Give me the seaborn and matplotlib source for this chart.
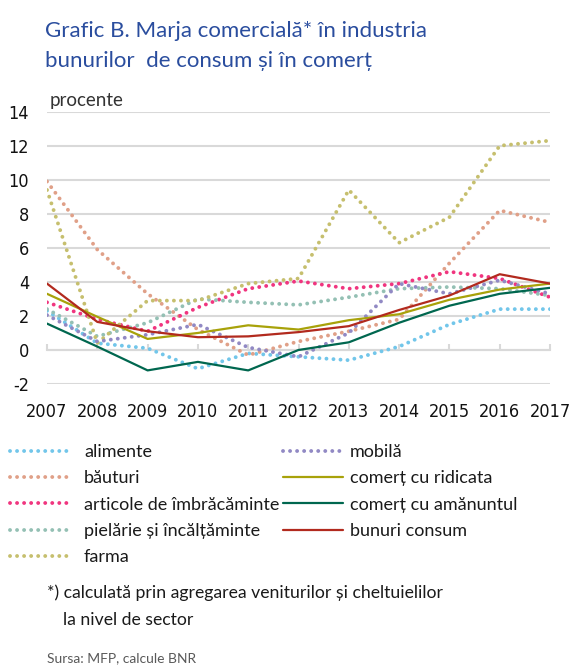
import numpy as np
import pandas as pd
import matplotlib
matplotlib.use('Agg')
import matplotlib.pyplot as plt
import seaborn as sns
from matplotlib.lines import Line2D

years = list(range(2007, 2018))

alimente = [2.3, 0.4, 0.1, -1.1, -0.2, -0.4, -0.6, 0.2, 1.5, 2.4, 2.4]
bauturi = [9.9, 5.9, 3.3, 1.2, -0.3, 0.5, 1.1, 1.8, 5.1, 8.2, 7.5]
articole = [2.8, 1.8, 1.1, 2.5, 3.6, 4.05, 3.6, 3.9, 4.6, 4.2, 3.1]
pielarie = [2.4, 0.8, 1.6, 3.0, 2.8, 2.65, 3.1, 3.6, 3.7, 3.6, 3.2]
farma = [9.4, 0.4, 2.9, 2.9, 3.9, 4.2, 9.4, 6.3, 7.8, 12.0, 12.3]
mobila = [2.05, 0.5, 0.9, 1.5, 0.15, -0.4, 1.0, 3.9, 3.3, 4.1, 3.3]
ridicata = [3.3, 1.95, 0.65, 1.0, 1.45, 1.2, 1.75, 2.1, 2.95, 3.55, 3.9]
amanuntul = [1.55, 0.2, -1.2, -0.7, -1.2, 0.0, 0.45, 1.6, 2.6, 3.3, 3.65]
bunuri = [3.9, 1.65, 1.1, 0.75, 0.8, 1.05, 1.4, 2.35, 3.2, 4.45, 3.9]

series = {
    'alimente': alimente,
    'băuturi': bauturi,
    'articole de îmbrăcăminte': articole,
    'pielărie și încălțăminte': pielarie,
    'farma': farma,
    'mobilă': mobila,
    'comerț cu ridicata': ridicata,
    'comerț cu amănuntul': amanuntul,
    'bunuri consum': bunuri,
}
colors = {
    'alimente': '#72c6ea',
    'băuturi': '#e0a088',
    'articole de îmbrăcăminte': '#f0357f',
    'pielărie și încălțăminte': '#94c0b4',
    'farma': '#c6bf6e',
    'mobilă': '#9189c4',
    'comerț cu ridicata': '#a8a20a',
    'comerț cu amănuntul': '#00674f',
    'bunuri consum': '#b22a1e',
}
dotted = ['alimente', 'băuturi', 'articole de îmbrăcăminte',
          'pielărie și încălțăminte', 'farma', 'mobilă']

df = pd.DataFrame([(name, y, v) for name, vals in series.items()
                   for y, v in zip(years, vals)],
                  columns=['serie', 'an', 'valoare'])

sns.set_theme(style='white')
plt.rcParams['font.family'] = ['Lato', 'DejaVu Sans']
plt.rcParams['axes.unicode_minus'] = False
grid_c = '#d9d9d9'
dot_style = (0, (0.01, 1.8))

fig = plt.figure(figsize=(5.76, 6.66), dpi=100)
ax = fig.add_axes([0.0816, 0.4234, 0.8733, 0.4089])

handles = []
for name in series:
    sub = df[df['serie'] == name]
    if name in dotted:
        sns.lineplot(data=sub, x='an', y='valoare', ax=ax, color=colors[name],
                     lw=2.8, linestyle=dot_style, dash_capstyle='round')
        h = Line2D([], [], color=colors[name], lw=2.8, linestyle=dot_style,
                   dash_capstyle='round')
    else:
        sns.lineplot(data=sub, x='an', y='valoare', ax=ax, color=colors[name],
                     lw=1.6)
        h = Line2D([], [], color=colors[name], lw=1.6)
    handles.append(h)

ymin, ymax = -2, 14
ax.set_xlim(2007, 2017)
ax.set_ylim(ymin, ymax)
ax.set_yticks(range(-2, 15, 2))
ax.set_xticks(years)
ax.set_xlabel('')
ax.set_ylabel('')
ax.grid(axis='y', color=grid_c, lw=1.5)
ax.grid(axis='x', visible=False)
ax.set_axisbelow(True)
for s in ax.spines.values():
    s.set_visible(False)
ax.tick_params(axis='both', length=0, labelsize=13, colors='#111111')
ax.tick_params(axis='y', pad=13)
ax.tick_params(axis='x', pad=14)
for lab in ax.get_xticklabels() + ax.get_yticklabels():
    lab.set_family('DejaVu Sans')
    lab.set_stretch('condensed')
    lab.set_fontsize(13)

# zero line with small ticks
sec = ax.secondary_xaxis((0 - ymin) / (ymax - ymin))
sec.set_xticks(years)
sec.tick_params(direction='in', length=4, width=1.5, color=grid_c,
                labelbottom=False, labeltop=False)
sec.spines['bottom'].set_color(grid_c)
sec.spines['bottom'].set_linewidth(1.5)

W, H = 576, 666
title_c = '#2a4d9e'
fig.text(45 / W, 1 - 37 / H, 'Grafic B. Marja comercială* în industria',
         color=title_c, fontsize=16, va='baseline', ha='left')
fig.text(45 / W, 1 - 67 / H, 'bunurilor  de consum și în comerț',
         color=title_c, fontsize=16, va='baseline', ha='left')
fig.text(50 / W, 1 - 106 / H, 'procente', color='#333333', fontsize=13.5,
         va='baseline', ha='left')

names = list(series)
leg1 = fig.legend(handles[:5], names[:5], loc='upper left',
                  bbox_to_anchor=(10 / W, 1 - 444 / H), frameon=False,
                  fontsize=13, handlelength=3.5, handletextpad=0.6,
                  labelspacing=0.57, borderpad=0, borderaxespad=0)
leg2 = fig.legend(handles[5:], names[5:], loc='upper left',
                  bbox_to_anchor=(283 / W, 1 - 444 / H), frameon=False,
                  fontsize=13, handlelength=3.3, handletextpad=0.4,
                  labelspacing=0.57, borderpad=0, borderaxespad=0)
for leg in (leg1, leg2):
    for t in leg.get_texts():
        t.set_color('#1a1a1a')

fig.text(47 / W, 1 - 598 / H,
         '*) calculată prin agregarea veniturilor și cheltuielilor',
         color='#1a1a1a', fontsize=12.7, va='baseline', ha='left')
fig.text(63 / W, 1 - 625 / H, 'la nivel de sector',
         color='#1a1a1a', fontsize=12.7, va='baseline', ha='left')
fig.text(47 / W, 1 - 662 / H, 'Sursa: MFP, calcule BNR',
         color='#595959', fontsize=10, va='baseline', ha='left')

fig.savefig('out.png', dpi=100)
